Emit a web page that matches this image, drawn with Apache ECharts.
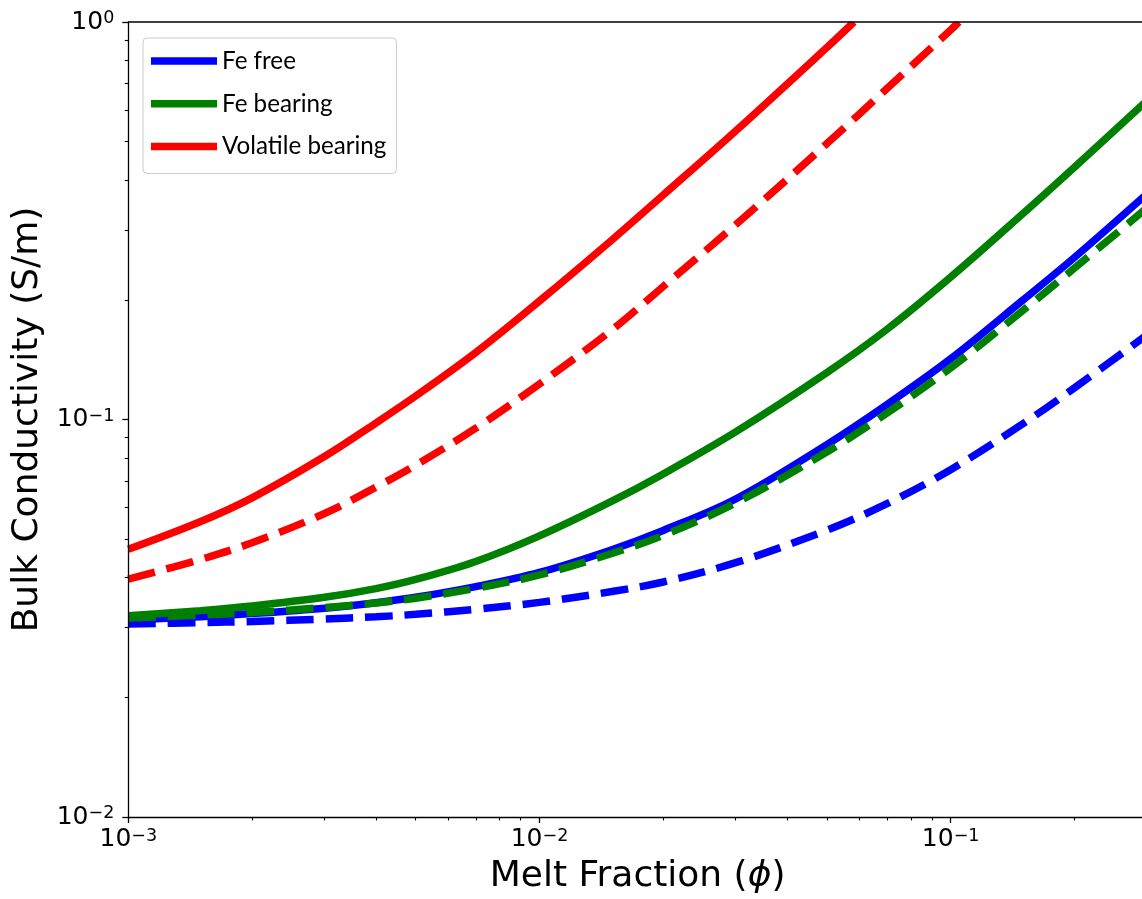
<!DOCTYPE html>
<html>
<head>
<meta charset="utf-8">
<title>Bulk conductivity vs melt fraction</title>
<script src="https://cdn.jsdelivr.net/npm/echarts@6/dist/echarts.min.js"></script>
<style>
  html, body { margin: 0; padding: 0; background: #ffffff; overflow: hidden; }
  #chart { width: 1160px; height: 899px; }
</style>
</head>
<body>
<div id="chart"></div>
<script>
// Melt fraction samples shared by the Fe-free and Fe-bearing curves
const meltFraction = [0.001, 0.0015, 0.002, 0.003, 0.004, 0.005, 0.007, 0.01, 0.015, 0.02, 0.03, 0.05, 0.07, 0.1, 0.15, 0.2, 0.3];

// Bulk conductivity (S/m)
const feFree          = [0.03130, 0.03191, 0.03249, 0.03352, 0.0346, 0.0357, 0.03798, 0.04124, 0.04704, 0.0526, 0.0631, 0.08647, 0.10902, 0.14213, 0.1998, 0.25556, 0.3692];
const feFreeDashed    = [0.03059, 0.03084, 0.03103, 0.03149, 0.03189, 0.03235, 0.03331, 0.03467, 0.03692, 0.03901, 0.04363, 0.05266, 0.0614, 0.07476, 0.09759, 0.12009, 0.16315];
const feBearing       = [0.03209, 0.03305, 0.03395, 0.0357, 0.03755, 0.0396, 0.04395, 0.05096, 0.0623, 0.07297, 0.09307, 0.13122, 0.16854, 0.22803, 0.32977, 0.43123, 0.63387];
const feBearingDashed = [0.03167, 0.0322, 0.03269, 0.03365, 0.03454, 0.03551, 0.03761, 0.04063, 0.04602, 0.0511, 0.06165, 0.08282, 0.10371, 0.13477, 0.18816, 0.24021, 0.3405];

// Volatile-bearing curves leave the top of the axes, so they have their own melt fractions
const volatilePhi           = [0.001, 0.0015, 0.002, 0.003, 0.004, 0.005, 0.007, 0.01, 0.015, 0.02, 0.03, 0.05, 0.0582];
const volatileBearing       = [0.04715, 0.05539, 0.06353, 0.0807, 0.09799, 0.11458, 0.14744, 0.19865, 0.28288, 0.36714, 0.5319, 0.8626, 1.0];
const volatileDashedPhi     = [0.001, 0.0015, 0.002, 0.003, 0.004, 0.005, 0.007, 0.01, 0.015, 0.02, 0.03, 0.05, 0.07, 0.1, 0.1047];
const volatileBearingDashed = [0.03969, 0.04447, 0.04899, 0.05801, 0.06756, 0.07679, 0.09508, 0.12283, 0.16802, 0.21607, 0.3089, 0.49442, 0.67998, 0.9547, 1.0];

// Tick positions
const xMajorTicks = [0.001, 0.01, 0.1];
const xMinorTicks = [0.002, 0.003, 0.004, 0.005, 0.006, 0.007, 0.008, 0.009,
                     0.02, 0.03, 0.04, 0.05, 0.06, 0.07, 0.08, 0.09, 0.2, 0.3];
const yMajorTicks = [0.01, 0.1, 1];
const yMinorTicks = [0.02, 0.03, 0.04, 0.05, 0.06, 0.07, 0.08, 0.09,
                     0.2, 0.3, 0.4, 0.5, 0.6, 0.7, 0.8, 0.9];

const legendNames = ['Fe free', 'Fe bearing', 'Volatile bearing'];

// Plot box (pixels)
const PLOT_LEFT = 128.3, PLOT_TOP = 22, PLOT_W = 1018.5, PLOT_H = 795;
const LINE_W = 7.5;
const DASH = [27.5, 12];
const FONT = 'DejaVu Sans';

const BLUE = '#0000ff', GREEN = '#008000', RED = '#ff0000';

function pairs(xs, ys) { return xs.map((x, i) => [x, ys[i]]); }

function powLabel(v) {
  const e = Math.round(Math.log10(v));
  const s = e < 0 ? '\u2212' + (-e) : String(e);
  return '{b|10}{s|' + s + '}';
}

const tickRich = {
  b: { fontSize: 25, fontFamily: FONT, color: '#000', lineHeight: 25, verticalAlign: 'bottom' },
  s: { fontSize: 17.5, fontFamily: FONT, color: '#000', lineHeight: 13, verticalAlign: 'top' }
};

function curve(name, xs, ys, color, dashed) {
  return {
    name: name,
    type: 'line',
    xAxisIndex: 0,
    yAxisIndex: 0,
    data: pairs(xs, ys),
    showSymbol: false,
    symbol: 'none',
    smooth: 0.35,
    silent: true,
    itemStyle: { color: color },
    lineStyle: { color: color, width: LINE_W, type: dashed ? DASH : 'solid', cap: 'butt' },
    emphasis: { disabled: true },
    z: 2
  };
}

const axisLineStyle = { color: '#000', width: 1.3 };

const option = {
  animation: false,
  backgroundColor: '#ffffff',
  textStyle: { fontFamily: FONT },
  grid: {
    left: PLOT_LEFT, top: PLOT_TOP, width: PLOT_W, height: PLOT_H,
    containLabel: false, outerBoundsMode: 'none'
  },
  legend: {
    data: legendNames,
    orient: 'vertical',
    left: 143,
    top: 38,
    padding: [10.9, 10, 14.9, 8],
    itemGap: 18.8,
    itemWidth: 66,
    itemHeight: LINE_W,
    icon: 'rect',
    backgroundColor: 'rgba(255,255,255,0.8)',
    borderColor: '#cccccc',
    borderWidth: 1,
    borderRadius: 4,
    selectedMode: false,
    textStyle: { fontFamily: 'Lato', fontSize: 24.2, color: '#000' },
    z: 10
  },
  xAxis: [
    {
      type: 'log', logBase: 10, min: 0.001, max: 0.3,
      position: 'bottom', z: 3,
      name: '{n|Melt Fraction (}{i|\u03d5}{n|)}',
      nameLocation: 'middle', nameGap: 42,
      nameTextStyle: {
        fontSize: 36, fontFamily: FONT, color: '#000',
        rich: {
          n: { fontSize: 36, fontFamily: FONT, color: '#000' },
          i: { fontSize: 36, fontFamily: FONT, fontStyle: 'italic', color: '#000' }
        }
      },
      axisLine: { show: true, onZero: false, lineStyle: axisLineStyle },
      axisTick: { show: true, customValues: xMajorTicks, length: 6, lineStyle: axisLineStyle },
      axisLabel: { show: true, customValues: xMajorTicks, margin: 10, formatter: powLabel, rich: tickRich },
      splitLine: { show: false },
      minorTick: { show: false }
    },
    {
      type: 'log', logBase: 10, min: 0.001, max: 0.3,
      position: 'bottom', z: 3,
      axisLine: { show: false },
      axisTick: { show: true, customValues: xMinorTicks, length: 3.5, lineStyle: { color: '#000', width: 1.1 } },
      axisLabel: { show: false },
      splitLine: { show: false }
    }
  ],
  yAxis: [
    {
      type: 'log', logBase: 10, min: 0.01, max: 1,
      position: 'left', z: 3,
      name: 'Bulk Conductivity (S/m)',
      nameLocation: 'middle', nameGap: 81, nameRotate: 90,
      nameTextStyle: { fontSize: 36, fontFamily: FONT, color: '#000' },
      axisLine: { show: true, onZero: false, lineStyle: axisLineStyle },
      axisTick: { show: true, customValues: yMajorTicks, length: 6, lineStyle: axisLineStyle },
      axisLabel: { show: true, customValues: yMajorTicks, margin: 14, formatter: powLabel, rich: tickRich },
      splitLine: { show: false },
      minorTick: { show: false }
    },
    {
      type: 'log', logBase: 10, min: 0.01, max: 1,
      position: 'left', z: 3,
      axisLine: { show: false },
      axisTick: { show: true, customValues: yMinorTicks, length: 3.5, lineStyle: { color: '#000', width: 1.1 } },
      axisLabel: { show: false },
      splitLine: { show: false }
    }
  ],
  graphic: [
    // keep line ends from spilling above the axes box, then draw the top spine
    { type: 'rect', silent: true, z: 50,
      shape: { x: PLOT_LEFT + 1, y: 0, width: 1100, height: PLOT_TOP - 0.6 },
      style: { fill: '#ffffff' } },
    { type: 'line', silent: true, z: 51,
      shape: { x1: PLOT_LEFT, y1: PLOT_TOP, x2: PLOT_LEFT + PLOT_W + 20, y2: PLOT_TOP },
      style: { stroke: '#000', lineWidth: 1.3 } }
  ],
  series: [
    curve('Fe free', meltFraction, feFree, BLUE, false),
    curve('Fe free (dashed)', meltFraction, feFreeDashed, BLUE, true),
    curve('Fe bearing', meltFraction, feBearing, GREEN, false),
    curve('Fe bearing (dashed)', meltFraction, feBearingDashed, GREEN, true),
    curve('Volatile bearing', volatilePhi, volatileBearing, RED, false),
    curve('Volatile bearing (dashed)', volatileDashedPhi, volatileBearingDashed, RED, true)
  ]
};

const chart = echarts.init(document.getElementById('chart'), null, { renderer: 'canvas' });
chart.setOption(option);
</script>
</body>
</html>
